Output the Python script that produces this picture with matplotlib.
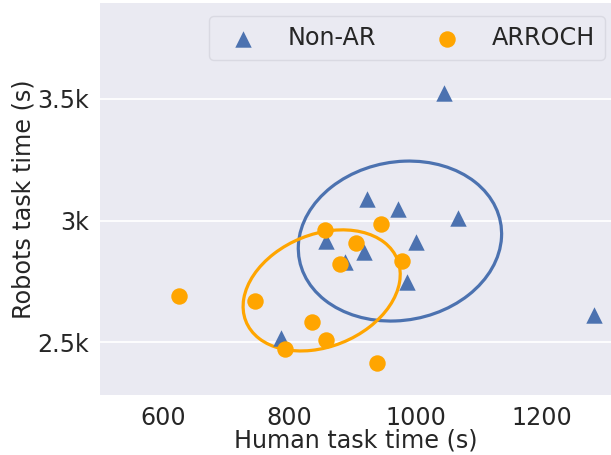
import numpy as np
import matplotlib
matplotlib.use("Agg")
import matplotlib.pyplot as plt
from matplotlib.patches import Ellipse
import matplotlib.transforms as transforms
from matplotlib.ticker import FuncFormatter

# Data
nonar_human = [1046, 924, 972, 1067, 858, 1001, 918, 888, 986, 1283, 787]
nonar_robot = [3525, 3087, 3047, 3009, 2917, 2910, 2872, 2828, 2746, 2611, 2518]
arroch_human = [625, 746, 836, 859, 793, 939, 857, 946, 905, 881, 978]
arroch_robot = [2689, 2669, 2581, 2508, 2471, 2412, 2961, 2986, 2906, 2820, 2833]
series_labels = ["Non-AR", "ARROCH"]
x_ticks = [600, 800, 1000, 1200]
y_ticks = [2500, 3000, 3500]

BLUE = "#4C72B0"
ORANGE = "#FFA500"
FS = 17.2


def confidence_ellipse(x, y, ax, n_std, **kw):
    x = np.asarray(x, float)
    y = np.asarray(y, float)
    cov = np.cov(x, y)
    pearson = cov[0, 1] / np.sqrt(cov[0, 0] * cov[1, 1])
    rx = np.sqrt(1 + pearson)
    ry = np.sqrt(1 - pearson)
    ell = Ellipse((0, 0), width=rx * 2, height=ry * 2, facecolor="none", **kw)
    sx = np.sqrt(cov[0, 0]) * n_std
    sy = np.sqrt(cov[1, 1]) * n_std
    tr = (transforms.Affine2D().rotate_deg(45).scale(sx, sy)
          .translate(np.mean(x), np.mean(y)))
    ell.set_transform(tr + ax.transData)
    return ax.add_patch(ell)


plt.rcParams["font.family"] = ["DejaVu Sans"]
fig = plt.figure(figsize=(6.11, 4.55), dpi=100)
ax = fig.add_axes([100 / 611, 60 / 455, 511 / 611, 392 / 455])
ax.set_facecolor("#EAEAF2")
for s in ax.spines.values():
    s.set_visible(False)
ax.grid(axis="y", color="white", linewidth=1.3)
ax.set_axisbelow(True)

ax.scatter(nonar_human, nonar_robot, marker="^", s=140, color=BLUE,
           label=series_labels[0], zorder=3, linewidths=0)
ax.scatter(arroch_human, arroch_robot, marker="o", s=140, color=ORANGE,
           label=series_labels[1], zorder=3, linewidths=0)

confidence_ellipse(nonar_human, nonar_robot, ax, 1.23, edgecolor=BLUE,
                   linewidth=2.3, zorder=2)
confidence_ellipse(arroch_human, arroch_robot, ax, 1.23, edgecolor=ORANGE,
                   linewidth=2.3, zorder=2)

ax.set_xlim(500, 1310)
ax.set_ylim(2282, 3895)
ax.set_xticks(x_ticks)
ax.set_yticks(y_ticks)
ax.yaxis.set_major_formatter(FuncFormatter(
    lambda v, p: f"{v/1000:g}k"))
ax.tick_params(axis="both", length=0, labelsize=FS, pad=8,
               labelcolor="#262626")
ax.set_xlabel("Human task time (s)", fontsize=FS, color="#262626", labelpad=-1)
ax.set_ylabel("Robots task time (s)", fontsize=FS, color="#262626", labelpad=1)

leg = ax.legend(loc="upper right", ncol=2, fontsize=FS, markerscale=1.0,
                frameon=True, facecolor="#EAEAF2", edgecolor="#D5D5DE",
                handletextpad=0.85, columnspacing=2.0, borderpad=0.42,
                borderaxespad=0, bbox_to_anchor=(0.988, 0.967))
for t in leg.get_texts():
    t.set_color("#262626")

fig.savefig("out.png", dpi=100)
